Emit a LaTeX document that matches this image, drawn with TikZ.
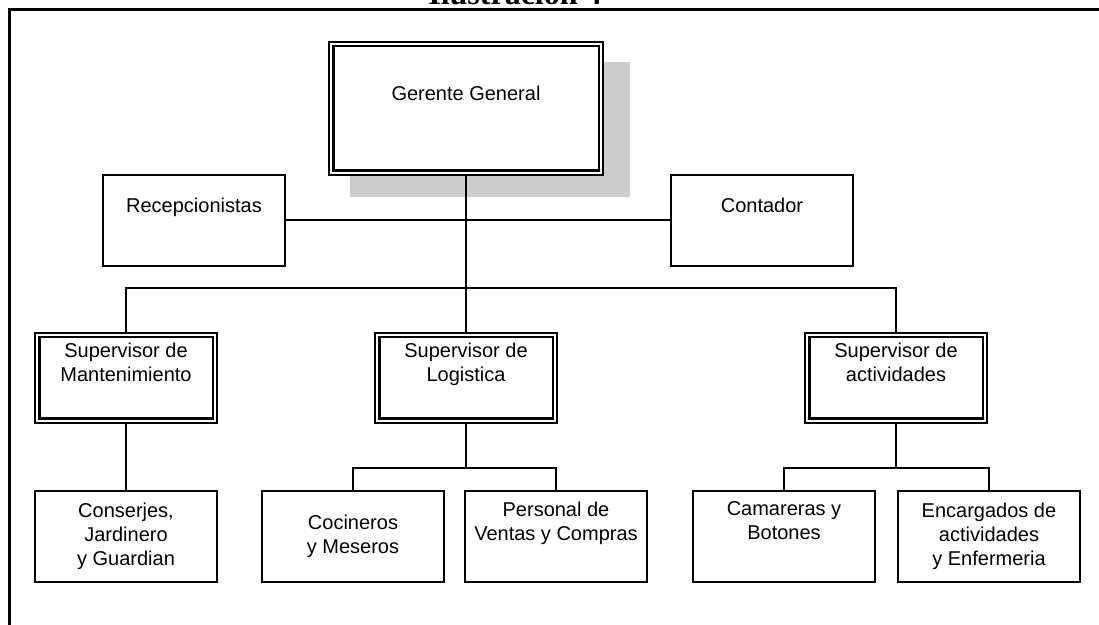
\documentclass[tikz,border=0pt]{standalone}
\usepackage{fontspec}
\setmainfont{Liberation Sans}
\newfontfamily\titlefont{Liberation Serif}
\usetikzlibrary{shadows}

\tikzset{
    caja/.style={draw, line width=1pt, fill=white, align=center,
        minimum width=91pt, minimum height=45.5pt, inner sep=2pt,
        font=\fontsize{10}{12}\selectfont},
    cajadoble/.style={caja, line width=0.6pt, minimum width=91pt, minimum height=45pt,
        path picture={\draw[line width=1.1pt]
            ([shift={(2.2pt,-2.2pt)}]path picture bounding box.north west) rectangle
            ([shift={(-2.2pt,2.2pt)}]path picture bounding box.south east);}},
    linea/.style={line width=1pt}
}

\begin{document}
\begin{tikzpicture}[x=0.5pt,y=-0.5pt]
        \useasboundingbox (0,0) rectangle (1099,625);
        \draw[line width=1.5pt] (9,660) |- (1120,10);
        \node[font=\titlefont\bfseries\fontsize{16}{18}\selectfont,anchor=base] (titulo) at (515,5) {Ilustración 4};

        \node[cajadoble,minimum width=137pt,minimum height=66.5pt,
            drop shadow={shadow xshift=11.75pt,shadow yshift=-10.25pt,shadow scale=1.02,fill=black!20,opacity=1}]
            (gerente) at (466,108.5) {Gerente General\\\strut};
        \node[caja] (recep) at (194,220.5) {Recepcionistas\\\strut};
        \node[caja] (conta) at (762,220.5) {Contador\\\strut};

        \node[cajadoble] (supM) at (126,378) {Supervisor de\\Mantenimiento\\\strut};
        \node[cajadoble] (supL) at (466,378) {Supervisor de\\Logistica\\\strut};
        \node[cajadoble] (supA) at (896,378) {Supervisor de\\actividades\\\strut};

        \node[caja] (conser) at (126,536.5) {Conserjes,\\Jardinero\\y Guardian};
        \node[caja] (cocin) at (353,536.5) {Cocineros\\y Meseros};
        \node[caja] (venta) at (556,536.5) {Personal de\\Ventas y Compras\\\strut};
        \node[caja] (camar) at (784,536.5) {Camareras y\\Botones\\\strut};
        \node[caja] (encar) at (989,536.5) {Encargados de\\actividades\\y Enfermeria};

        \coordinate (bus) at (466,288);
        \coordinate (subL) at (466,468);
        \coordinate (subA) at (896,468);

        \draw[linea] (recep.east) -- (conta.west);
        \draw[linea] (gerente.south) -- (bus);
        \draw[linea] (supM.north) |- (bus) -| (supA.north);
        \draw[linea] (bus) -- (supL.north);
        \draw[linea] (supM.south) -- (conser.north);
        \draw[linea] (supL.south) -- (subL);
        \draw[linea] (cocin.north) |- (subL) -| (venta.north);
        \draw[linea] (supA.south) -- (subA);
        \draw[linea] (camar.north) |- (subA) -| (encar.north);
    \end{tikzpicture}
\end{document}
